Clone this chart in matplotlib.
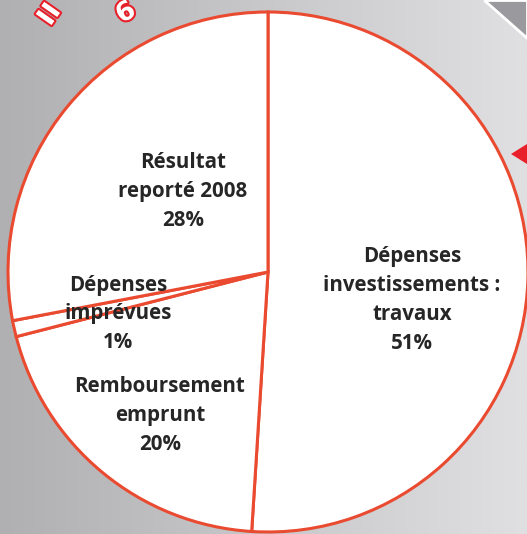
import matplotlib.pyplot as plt
import numpy as np
from matplotlib.patches import Polygon
import matplotlib.patheffects as pe

# Budget shares (clockwise from top)
labels = ["Dépenses\ninvestissements :\ntravaux\n51%",
          "Remboursement\nemprunt\n20%",
          "Dépenses\nimprévues\n1%",
          "Résultat\nreporté 2008\n28%"]
shares = [51, 20, 1, 28]
# label centres in pixel coords (x, y from top)
label_pos = [(412, 300), (160, 416), (118, 314), (183, 191)]

W, H = 527, 534
fig = plt.figure(figsize=(W / 100, H / 100), dpi=100)
ax = fig.add_axes([0, 0, 1, 1])

# grey gradient background
grad = np.linspace(0, 1, 256)
col = np.zeros((2, 256, 3))
for i, (a, b) in enumerate(zip((176, 176, 179), (224, 224, 226))):
    col[:, :, i] = (a + (b - a) * grad) / 255
ax.imshow(col, extent=(0, W, 0, H), aspect='auto', zorder=0)

# darker corner top right
ax.add_patch(Polygon([(484, H), (W, H), (W, H - 38)], closed=True,
                     facecolor='#9a9a9e', edgecolor='white', lw=2, zorder=1))
# red arrow
ax.add_patch(Polygon([(511, H - 154), (W, H - 144), (W, H - 164)], closed=True,
                     facecolor='#e8202a', edgecolor='none', zorder=1))

# cropped title fragments (white letters, red outline)
for s, x, y, r in [("II", 50, 15, 55), ("6", 126, 13, 30)]:
    ax.text(x, H - y, s, color='white', fontsize=19, fontweight='bold',
            rotation=r, ha='center', va='center', zorder=1,
            path_effects=[pe.withStroke(linewidth=3, foreground='#e8202a')])

wedges, _ = ax.pie(shares, startangle=90, counterclock=False,
                   center=(268, H - 272), radius=260, frame=True,
                   colors=['white'] * len(shares),
                   wedgeprops=dict(edgecolor='#ea4a30', linewidth=2.2))
ax.set_xlim(0, W)
ax.set_ylim(0, H)
ax.set_aspect('equal')
ax.axis('off')

for lab, (x, y) in zip(labels, label_pos):
    ax.text(x, H - y, lab, ha='center', va='center', fontsize=14.8,
            fontweight='bold', color='#262626', family='Open Sans',
            linespacing=1.5, zorder=5)

fig.savefig('out.png', dpi=100)
